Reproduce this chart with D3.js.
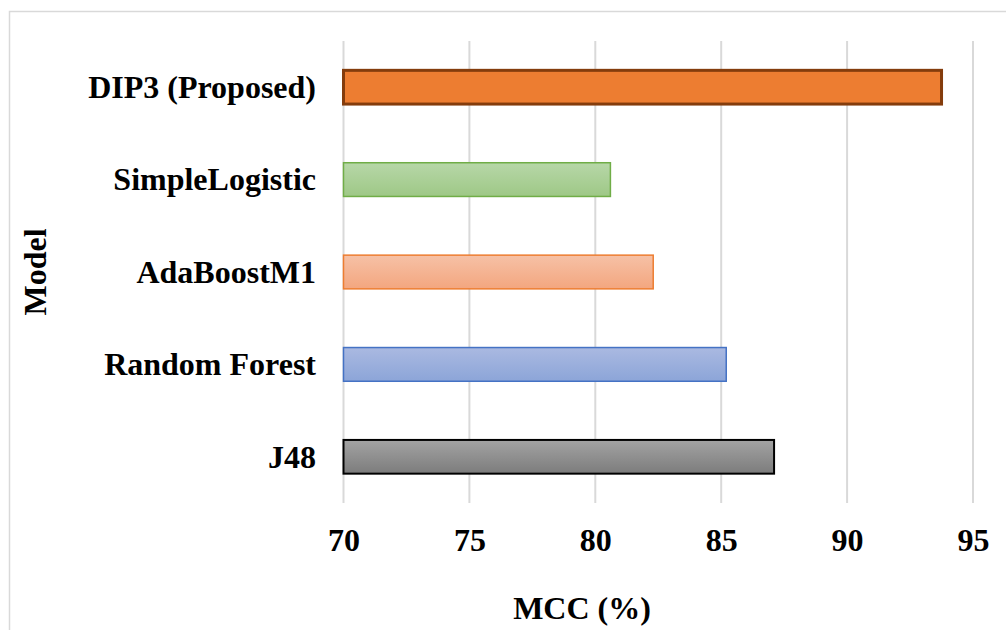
<!DOCTYPE html>
<html>
<head>
<meta charset="utf-8">
<script src="https://cdn.jsdelivr.net/npm/d3@7"></script>
<style>
  html, body { margin: 0; padding: 0; background: #fff; }
  svg { display: block; }
  text { font-family: "Liberation Serif", "Times New Roman", serif; font-weight: bold; fill: #000; }
</style>
</head>
<body>
<svg id="chart" width="1006" height="630"></svg>
<script>
// Model names, top to bottom
const models = ["DIP3 (Proposed)", "SimpleLogistic", "AdaBoostM1", "Random Forest", "J48"];
// MCC (%) per model
const mcc = [93.75, 80.6, 82.3, 85.2, 87.1];
// X axis ticks
const xTicks = [70, 75, 80, 85, 90, 95];
// Bar styling per model: gradient top, gradient bottom, outline, outline width
const fillTop = ["#ED7D31", "#B7D7A8", "#F6C1A6", "#AAB9E1", "#A3A3A3"];
const fillBottom = ["#ED7D31", "#9EC886", "#F3A67F", "#8CA5D8", "#7C7C7C"];
const strokeCol = ["#843C0C", "#70AD47", "#ED7D31", "#4472C4", "#000000"];
const strokeW = [3, 1.5, 1.5, 1.5, 2];

const svg = d3.select("#chart");
const W = 1006, H = 630;

// Outer chart frame (runs past the right and bottom edges)
svg.append("rect")
  .attr("x", 9.5).attr("y", 11.5)
  .attr("width", 1100).attr("height", 700)
  .attr("fill", "#fff").attr("stroke", "#d9d9d9").attr("stroke-width", 1.5);

const plot = { left: 343.5, right: 973, top: 41, bottom: 503 };

const x = d3.scaleLinear().domain([70, 95]).range([plot.left, plot.right]);
const y = d3.scaleBand().domain(models).range([plot.top, plot.bottom]).paddingInner(0.635).paddingOuter(0.3175);

// Vertical gridlines
svg.append("g").selectAll("line").data(xTicks).join("line")
  .attr("x1", d => x(d)).attr("x2", d => x(d))
  .attr("y1", plot.top).attr("y2", plot.bottom)
  .attr("stroke", "#d9d9d9").attr("stroke-width", 2);

// Gradients
const defs = svg.append("defs");
models.forEach((m, i) => {
  const g = defs.append("linearGradient").attr("id", "grad" + i)
    .attr("x1", 0).attr("y1", 0).attr("x2", 0).attr("y2", 1);
  g.append("stop").attr("offset", "0%").attr("stop-color", fillTop[i]);
  g.append("stop").attr("offset", "100%").attr("stop-color", fillBottom[i]);
});

// Bars
svg.append("g").selectAll("rect").data(models).join("rect")
  .attr("x", x(70))
  .attr("y", d => y(d))
  .attr("width", (d, i) => x(mcc[i]) - x(70))
  .attr("height", y.bandwidth())
  .attr("fill", (d, i) => `url(#grad${i})`)
  .attr("stroke", (d, i) => strokeCol[i])
  .attr("stroke-width", (d, i) => strokeW[i]);

// X axis tick labels
const xAxis = d3.axisBottom(x).tickValues(xTicks).tickSize(0).tickPadding(0).tickFormat(d3.format("d"));
const xg = svg.append("g").attr("transform", `translate(0, ${plot.bottom})`).call(xAxis);
xg.select(".domain").remove();
xg.selectAll("text")
  .attr("dy", null).attr("y", 48)
  .style("font-family", '"Liberation Serif", "Times New Roman", serif')
  .style("font-weight", "bold").style("font-size", "32px").attr("fill", "#000");

// Y axis category labels
const yAxis = d3.axisLeft(y).tickSize(0).tickPadding(0);
const yg = svg.append("g").attr("transform", `translate(316, 0)`).call(yAxis);
yg.select(".domain").remove();
yg.selectAll("text")
  .attr("dy", "0.34em")
  .style("font-family", '"Liberation Serif", "Times New Roman", serif')
  .style("font-weight", "bold").style("font-size", "32px").attr("fill", "#000");

// Axis titles
svg.append("text")
  .attr("x", 582).attr("y", 619)
  .attr("text-anchor", "middle")
  .style("font-size", "32px")
  .text("MCC (%)");

svg.append("text")
  .attr("transform", "translate(46, 272) rotate(-90)")
  .attr("text-anchor", "middle")
  .style("font-size", "32px")
  .text("Model");
</script>
</body>
</html>
